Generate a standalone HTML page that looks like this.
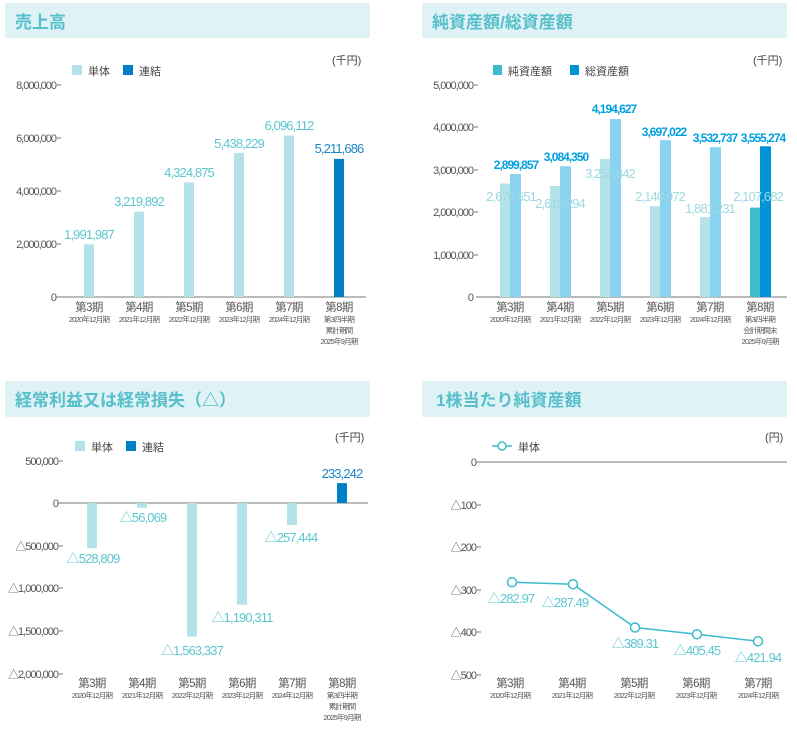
<!DOCTYPE html>
<html><head><meta charset="utf-8"><style>
body{margin:0;background:#fff}
svg{display:block;font-family:"Liberation Sans","Noto Sans CJK JP",sans-serif}
.t{font-size:17px;fill:#56bfcb;font-weight:600}
.ax{font-size:11px;fill:#555;letter-spacing:-1px}
.xl{font-size:11.5px;fill:#555;text-anchor:middle;letter-spacing:-0.6px}
.xs{font-size:7.5px;fill:#555;text-anchor:middle;letter-spacing:-0.8px}
.v{font-size:13px;fill:#5cc6d0;text-anchor:middle;letter-spacing:-0.9px}
.vb{font-size:12px;fill:#00a0e0;text-anchor:middle;font-weight:bold;letter-spacing:-1px}
.lg{font-size:11px;fill:#444}
</style></head><body>
<svg width="797" height="735" viewBox="0 0 797 735">
<!-- Panel 1 -->
<rect x="5" y="3" width="365" height="35" fill="#dff2f6"/>
<text class="t" x="15" y="28">売上高</text>
<text class="lg" x="332" y="64">(千円)</text>
<rect x="72" y="65" width="10" height="10" fill="#b3e3e8"/><text class="lg" x="88" y="75">単体</text>
<rect x="123" y="65" width="10" height="10" fill="#0080c6"/><text class="lg" x="139" y="75">連結</text>
<g class="ax" text-anchor="end">
<text x="56" y="89">8,000,000</text><text x="56" y="142">6,000,000</text><text x="56" y="195">4,000,000</text><text x="56" y="248">2,000,000</text><text x="56" y="301">0</text></g>
<g stroke="#777" stroke-width="1"><line x1="57" y1="85" x2="61" y2="85"/><line x1="57" y1="138" x2="61" y2="138"/><line x1="57" y1="191" x2="61" y2="191"/><line x1="57" y1="244" x2="61" y2="244"/><line x1="56" y1="297" x2="366" y2="297"/></g>
<g fill="#b3e3e8">
<rect x="84" y="244.2" width="10" height="52.8"/><rect x="134" y="211.7" width="10" height="85.3"/><rect x="184" y="182.4" width="10" height="114.6"/><rect x="234" y="152.9" width="10" height="144.1"/><rect x="284" y="135.5" width="10" height="161.5"/></g>
<rect x="334" y="158.9" width="10" height="138.1" fill="#0080c6"/>
<text class="v" x="89" y="239">1,991,987</text><text class="v" x="139" y="206">3,219,892</text><text class="v" x="189" y="177">4,324,875</text><text class="v" x="239" y="148">5,438,229</text><text class="v" x="289" y="130">6,096,112</text><text class="v" x="339" y="153" style="fill:#1a86c8">5,211,686</text>
<g><text class="xl" x="89" y="311">第3期</text><text class="xs" x="89" y="322">2020年12月期</text>
<text class="xl" x="139" y="311">第4期</text><text class="xs" x="139" y="322">2021年12月期</text>
<text class="xl" x="189" y="311">第5期</text><text class="xs" x="189" y="322">2022年12月期</text>
<text class="xl" x="239" y="311">第6期</text><text class="xs" x="239" y="322">2023年12月期</text>
<text class="xl" x="289" y="311">第7期</text><text class="xs" x="289" y="322">2024年12月期</text>
<text class="xl" x="339" y="311">第8期</text><text class="xs" x="339" y="322">第3四半期</text><text class="xs" x="339" y="333">累計期間</text><text class="xs" x="339" y="344">2025年9月期</text></g>

<!-- Panel 2 -->
<rect x="422" y="3" width="365" height="35" fill="#dff2f6"/>
<text class="t" x="432" y="28">純資産額/総資産額</text>
<text class="lg" x="753" y="64">(千円)</text>
<rect x="493" y="65" width="9" height="10" fill="#3dbccb"/><text class="lg" x="508" y="75">純資産額</text>
<rect x="570" y="65" width="9" height="10" fill="#0094d6"/><text class="lg" x="585" y="75">総資産額</text>
<g class="ax" text-anchor="end">
<text x="473" y="89">5,000,000</text><text x="473" y="131">4,000,000</text><text x="473" y="174">3,000,000</text><text x="473" y="216">2,000,000</text><text x="473" y="259">1,000,000</text><text x="473" y="301">0</text></g>
<g stroke="#777"><line x1="474" y1="85" x2="478" y2="85"/><line x1="474" y1="127" x2="478" y2="127"/><line x1="474" y1="170" x2="478" y2="170"/><line x1="474" y1="212" x2="478" y2="212"/><line x1="474" y1="255" x2="478" y2="255"/><line x1="476" y1="297" x2="787" y2="297"/></g>
<g fill="#b3e3e8">
<rect x="500" y="183.5" width="10" height="113.5"/><rect x="550" y="186" width="10" height="111"/><rect x="600" y="159.1" width="10" height="137.9"/><rect x="650" y="206.2" width="10" height="90.8"/><rect x="700" y="217.2" width="10" height="79.8"/></g>
<rect x="750" y="207.6" width="10" height="89.4" fill="#3dbccb"/>
<g fill="#8ad3f0">
<rect x="510" y="174" width="11" height="123"/><rect x="560" y="166.2" width="11" height="130.8"/><rect x="610" y="119.1" width="11" height="177.9"/><rect x="660" y="140.2" width="11" height="156.8"/><rect x="710" y="147.2" width="11" height="149.8"/></g>
<rect x="760" y="146.3" width="11" height="150.7" fill="#0094d6"/>
<g class="v" style="fill:#9fd8e0"><text x="511" y="201">2,676,651</text><text x="560" y="208">2,618,294</text><text x="610" y="178">3,252,842</text><text x="660" y="201">2,140,972</text><text x="710" y="213">1,881,231</text><text x="758" y="201">2,107,682</text></g>
<text class="vb" x="516" y="169">2,899,857</text><text class="vb" x="566" y="161">3,084,350</text><text class="vb" x="614" y="113">4,194,627</text><text class="vb" x="664" y="136">3,697,022</text><text class="vb" x="715" y="142">3,532,737</text><text class="vb" x="763" y="142">3,555,274</text>
<g><text class="xl" x="510" y="311">第3期</text><text class="xs" x="510" y="322">2020年12月期</text>
<text class="xl" x="560" y="311">第4期</text><text class="xs" x="560" y="322">2021年12月期</text>
<text class="xl" x="610" y="311">第5期</text><text class="xs" x="610" y="322">2022年12月期</text>
<text class="xl" x="660" y="311">第6期</text><text class="xs" x="660" y="322">2023年12月期</text>
<text class="xl" x="710" y="311">第7期</text><text class="xs" x="710" y="322">2024年12月期</text>
<text class="xl" x="760" y="311">第8期</text><text class="xs" x="760" y="322">第3四半期</text><text class="xs" x="760" y="333">会計期間末</text><text class="xs" x="760" y="344">2025年9月期</text></g>

<!-- Panel 3 -->
<rect x="5" y="381" width="365" height="36" fill="#dff2f6"/>
<text class="t" x="15" y="406">経常利益又は経常損失（△）</text>
<text class="lg" x="335" y="441">(千円)</text>
<rect x="75" y="441" width="10" height="10" fill="#b3e3e8"/><text class="lg" x="91" y="451">単体</text>
<rect x="126" y="441" width="10" height="10" fill="#0080c6"/><text class="lg" x="142" y="451">連結</text>
<g class="ax" text-anchor="end">
<text x="58" y="465">500,000</text><text x="58" y="507">0</text><text x="58" y="550">△500,000</text><text x="58" y="592">△1,000,000</text><text x="58" y="635">△1,500,000</text><text x="58" y="678">△2,000,000</text></g>
<g stroke="#777"><line x1="59" y1="461" x2="63" y2="461"/><line x1="59" y1="546" x2="63" y2="546"/><line x1="59" y1="588" x2="63" y2="588"/><line x1="59" y1="631" x2="63" y2="631"/><line x1="59" y1="674" x2="63" y2="674"/><line x1="58" y1="503" x2="368" y2="503"/></g>
<g fill="#b3e3e8">
<rect x="87" y="503" width="10" height="45.2"/><rect x="137" y="503" width="10" height="4.8"/><rect x="187" y="503" width="10" height="133.5"/><rect x="237" y="503" width="10" height="101.7"/><rect x="287" y="503" width="10" height="22"/></g>
<rect x="337" y="483.1" width="10" height="19.9" fill="#0080c6"/>
<text class="v" x="93" y="563">△528,809</text><text class="v" x="143" y="522">△56,069</text><text class="v" x="192" y="655">△1,563,337</text><text class="v" x="242" y="622">△1,190,311</text><text class="v" x="291" y="542">△257,444</text><text class="v" x="342" y="478" style="fill:#1a86c8">233,242</text>
<g><text class="xl" x="92" y="687">第3期</text><text class="xs" x="92" y="698">2020年12月期</text>
<text class="xl" x="142" y="687">第4期</text><text class="xs" x="142" y="698">2021年12月期</text>
<text class="xl" x="192" y="687">第5期</text><text class="xs" x="192" y="698">2022年12月期</text>
<text class="xl" x="242" y="687">第6期</text><text class="xs" x="242" y="698">2023年12月期</text>
<text class="xl" x="292" y="687">第7期</text><text class="xs" x="292" y="698">2024年12月期</text>
<text class="xl" x="342" y="687">第8期</text><text class="xs" x="342" y="698">第3四半期</text><text class="xs" x="342" y="709">累計期間</text><text class="xs" x="342" y="720">2025年9月期</text></g>

<!-- Panel 4 -->
<rect x="422" y="381" width="365" height="36" fill="#dff2f6"/>
<text class="t" x="436" y="406">1株当たり純資産額</text>
<text class="lg" x="765" y="441">(円)</text>
<line x1="492" y1="446" x2="512" y2="446" stroke="#3dbccb" stroke-width="1.5"/><circle cx="502" cy="446" r="4" fill="#fff" stroke="#3dbccb" stroke-width="1.5"/><text class="lg" x="518" y="451">単体</text>
<g class="ax" text-anchor="end">
<text x="476" y="466">0</text><text x="476" y="509">△100</text><text x="476" y="551">△200</text><text x="476" y="594">△300</text><text x="476" y="636">△400</text><text x="476" y="679">△500</text></g>
<g stroke="#777"><line x1="477" y1="505" x2="481" y2="505"/><line x1="477" y1="547" x2="481" y2="547"/><line x1="477" y1="590" x2="481" y2="590"/><line x1="477" y1="632" x2="481" y2="632"/><line x1="477" y1="675" x2="481" y2="675"/><line x1="476" y1="462" x2="787" y2="462"/></g>
<polyline points="512,582.3 573,584.2 635,627.5 697,634.3 758,641.3" fill="none" stroke="#3dbccb" stroke-width="1.5"/>
<g fill="#fff" stroke="#3dbccb" stroke-width="1.5"><circle cx="512" cy="582.3" r="4.5"/><circle cx="573" cy="584.2" r="4.5"/><circle cx="635" cy="627.5" r="4.5"/><circle cx="697" cy="634.3" r="4.5"/><circle cx="758" cy="641.3" r="4.5"/></g>
<text class="v" x="511" y="603">△282.97</text><text class="v" x="565" y="607">△287.49</text><text class="v" x="635" y="648">△389.31</text><text class="v" x="697" y="655">△405.45</text><text class="v" x="758" y="662">△421.94</text>
<g><text class="xl" x="510" y="687">第3期</text><text class="xs" x="510" y="698">2020年12月期</text>
<text class="xl" x="572" y="687">第4期</text><text class="xs" x="572" y="698">2021年12月期</text>
<text class="xl" x="634" y="687">第5期</text><text class="xs" x="634" y="698">2022年12月期</text>
<text class="xl" x="696" y="687">第6期</text><text class="xs" x="696" y="698">2023年12月期</text>
<text class="xl" x="758" y="687">第7期</text><text class="xs" x="758" y="698">2024年12月期</text></g>
</svg>
</body></html>
